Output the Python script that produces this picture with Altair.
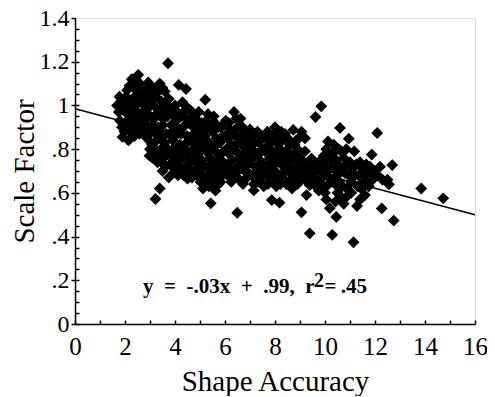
import altair as alt
import pandas as pd

# Scatter data (Shape Accuracy, Scale Factor)
xs = [
    1.68, 1.75, 1.85, 1.90, 1.80, 1.95, 1.88,
    2.05, 2.10, 2.00, 2.14, 2.15, 2.20, 2.08, 2.22,
    2.27, 2.35, 2.30, 2.40, 2.32, 2.45, 2.38, 2.50, 2.42,
    2.53, 2.60, 2.65, 2.55, 2.62, 2.70, 2.58, 2.68, 2.72,
    2.80, 2.93, 2.85, 2.90, 2.82, 2.95, 2.88, 3.00, 2.98, 3.02,
    3.10, 3.20, 3.15, 3.25, 3.12, 3.22, 3.18, 3.28, 3.10, 3.22, 3.39, 3.30,
    3.39, 3.50, 3.59, 3.45, 3.55, 3.42, 3.52, 3.48, 3.58, 3.44, 3.55, 3.62, 3.50,
    3.72, 3.75, 3.80, 3.70, 3.85, 3.78, 3.90, 3.72, 3.85, 3.80, 3.92, 3.75,
    4.15, 4.00, 4.10, 4.05, 4.15, 4.02, 4.20, 4.08, 4.18, 4.00, 4.12, 4.22,
    4.44, 4.30, 4.35, 4.45, 4.32, 4.48, 4.38, 4.50, 4.30, 4.42, 4.35, 4.50,
    4.60, 4.70, 4.65, 4.75, 4.60, 4.72, 4.80, 4.62, 4.75, 4.68, 4.82,
    4.90, 5.00, 4.95, 5.05, 4.92, 5.08, 4.98, 5.10, 5.02, 5.21, 5.12,
    5.25, 5.30, 5.20, 5.35, 5.25, 5.40, 5.28, 5.38, 5.22, 5.35, 5.43,
    5.55, 5.60, 5.50, 5.65, 5.55, 5.70, 5.60, 5.50, 5.68, 5.58, 5.62,
    5.85, 5.90, 5.80, 5.95, 5.85, 6.00, 5.90, 5.82, 6.03,
    6.15, 6.20, 6.10, 6.25, 6.15, 6.30, 6.20, 6.10, 6.25,
    6.36, 6.45, 6.50, 6.40, 6.55, 6.45, 6.60, 6.50, 6.42, 6.58, 6.49,
    6.70, 6.80, 6.75, 6.85, 6.70, 6.90, 6.78, 6.88, 6.72,
    7.00, 7.10, 7.05, 7.15, 7.00, 7.20, 7.08, 7.15, 7.15,
    7.30, 7.40, 7.35, 7.50, 7.30, 7.45, 7.38, 7.50, 7.32, 7.55,
    7.65, 7.75, 7.60, 7.80, 7.70, 7.62, 7.78, 7.87,
    8.00, 7.95, 8.05, 7.90, 8.10, 7.98, 8.08, 7.92, 8.05, 8.18,
    8.25, 8.30, 8.20, 8.35, 8.25, 8.40, 8.30, 8.22,
    8.50, 8.60, 8.73, 8.55, 8.65, 8.50, 8.70, 8.58, 8.68,
    9.06, 8.85, 8.90, 8.80, 8.95, 8.85, 9.00, 8.90, 9.06,
    9.20, 9.15, 9.25, 9.10, 9.30, 9.26, 9.39, 9.39,
    9.46, 9.55, 9.50, 9.60, 9.62, 9.45,
    9.85, 9.75, 9.80, 9.90, 9.85, 9.75, 9.95,
    10.12, 10.05, 10.15, 10.00, 10.20, 10.08, 10.00, 10.19, 10.15, 10.05,
    10.35, 10.30, 10.45, 10.35, 10.50, 10.40, 10.50, 10.45, 10.29, 10.42,
    10.60, 10.65, 10.75, 10.60, 10.80, 10.70, 10.65, 10.84, 10.75,
    10.95, 11.17, 11.00, 11.10, 10.95, 11.05, 11.20, 11.14, 11.28,
    11.40, 11.50, 11.35, 11.55, 11.45, 11.60, 11.40,
    11.87, 11.80, 11.70, 11.90, 11.75, 12.00, 11.95,
    12.09, 12.20, 12.10, 12.30, 12.27, 12.69, 12.56, 12.50, 12.75,
    13.85, 14.73,
    # points filling the dense core
    1.78, 1.98, 2.02, 2.18, 2.25, 2.28, 2.36, 2.48, 2.47, 2.56, 2.66, 2.75,
    2.77, 2.86, 2.92, 2.95, 3.05, 3.05, 3.08,
    3.17, 3.30, 3.33, 3.35, 3.38, 3.40, 3.47, 3.62, 3.65, 3.66, 3.68, 3.88,
    3.93, 3.95, 3.97,
    4.05, 4.10, 4.25, 4.25, 4.27, 4.40, 4.55, 4.55, 4.57, 4.58, 4.78, 4.85,
    4.85, 4.88, 4.95,
    5.05, 5.10, 5.15, 5.15, 5.32, 5.45, 5.45, 5.45, 5.48, 5.72, 5.75, 5.75,
    5.75, 5.95, 6.00,
    6.05, 6.08, 6.30, 6.32, 6.35, 6.62, 6.65, 6.68, 6.62, 6.85, 6.95, 6.95, 6.92,
    7.20, 7.22, 7.25, 7.40, 7.42, 7.55, 7.58, 7.70, 7.72, 7.85, 7.85, 7.88,
    8.12, 8.15, 8.15, 8.40, 8.42, 8.45, 8.45, 8.62, 8.75, 8.78, 8.78, 8.95, 9.00,
    9.10, 9.20, 9.35, 9.35, 9.65, 9.68, 9.55, 9.95, 9.92,
    10.25, 10.28, 10.55, 10.55, 10.58, 10.85, 10.85, 10.88, 11.05, 11.25,
    11.30, 11.60, 11.65, 11.50,
]
ys = [
    1.000, 0.970, 1.020, 0.856, 0.930, 0.990, 0.900,
    1.040, 0.960, 0.920, 0.840, 1.000, 0.880, 1.070, 0.930,
    1.120, 1.080, 1.030, 0.980, 0.940, 0.900, 0.860, 1.050, 1.000,
    1.140, 1.100, 1.060, 0.960, 0.920, 0.880, 0.870, 1.010, 0.970,
    1.070, 1.105, 1.030, 0.990, 0.940, 0.900, 0.850, 0.800, 0.770, 0.950,
    1.080, 1.040, 1.000, 0.960, 0.910, 0.870, 0.830, 0.790, 0.760, 0.572, 0.620, 0.740,
    1.100, 1.080, 1.064, 1.020, 0.980, 0.950, 0.910, 0.870, 0.830, 0.800, 0.760, 0.720, 0.700,
    1.193, 1.030, 0.990, 0.950, 0.910, 0.870, 0.840, 0.800, 0.770, 0.730, 0.690, 0.670,
    1.094, 1.000, 0.970, 0.930, 0.890, 0.860, 0.820, 0.780, 0.750, 0.710, 0.680, 0.700,
    1.075, 1.015, 0.970, 0.940, 0.900, 0.860, 0.820, 0.790, 0.760, 0.720, 0.680, 0.665,
    0.980, 0.950, 0.910, 0.870, 0.840, 0.800, 0.770, 0.740, 0.700, 0.670, 0.900,
    0.930, 0.890, 0.850, 0.820, 0.780, 0.750, 0.710, 0.680, 0.650, 1.026, 0.620,
    0.930, 0.900, 0.860, 0.830, 0.790, 0.760, 0.720, 0.690, 0.660, 0.630, 0.552,
    0.950, 0.920, 0.880, 0.850, 0.810, 0.780, 0.740, 0.700, 0.670, 0.640, 0.610,
    0.900, 0.860, 0.830, 0.790, 0.750, 0.720, 0.680, 0.650, 0.930,
    0.920, 0.890, 0.850, 0.820, 0.780, 0.750, 0.710, 0.680, 0.650,
    0.970, 0.940, 0.900, 0.860, 0.830, 0.790, 0.760, 0.720, 0.690, 0.660, 0.509,
    0.900, 0.870, 0.830, 0.800, 0.770, 0.730, 0.700, 0.670, 0.640,
    0.890, 0.860, 0.820, 0.790, 0.750, 0.720, 0.680, 0.640, 0.611,
    0.880, 0.860, 0.830, 0.800, 0.770, 0.740, 0.700, 0.670, 0.650, 0.630,
    0.850, 0.820, 0.790, 0.760, 0.730, 0.700, 0.670, 0.567,
    0.900, 0.860, 0.830, 0.790, 0.760, 0.730, 0.690, 0.660, 0.630, 0.555,
    0.880, 0.840, 0.800, 0.770, 0.730, 0.700, 0.670, 0.640,
    0.850, 0.820, 0.888, 0.780, 0.750, 0.710, 0.680, 0.650, 0.620,
    0.880, 0.840, 0.800, 0.760, 0.730, 0.700, 0.670, 0.640, 0.511,
    0.850, 0.740, 0.700, 0.670, 0.650, 0.590, 0.635, 0.415,
    0.757, 0.720, 0.680, 0.700, 0.947, 0.660,
    0.996, 0.740, 0.700, 0.670, 0.640, 0.610, 0.720,
    0.835, 0.800, 0.770, 0.740, 0.710, 0.680, 0.600, 0.530, 0.640, 0.570,
    0.820, 0.780, 0.750, 0.710, 0.680, 0.640, 0.600, 0.490, 0.408, 0.560,
    0.897, 0.790, 0.760, 0.720, 0.690, 0.630, 0.580, 0.580, 0.550,
    0.848, 0.790, 0.740, 0.710, 0.680, 0.650, 0.680, 0.374, 0.540,
    0.740, 0.710, 0.680, 0.650, 0.620, 0.590, 0.570,
    0.775, 0.720, 0.690, 0.660, 0.630, 0.700, 0.680,
    0.874, 0.720, 0.680, 0.660, 0.529, 0.727, 0.639, 0.660, 0.473,
    0.620, 0.575,
    # points filling the dense core
    1.040, 0.880, 1.000, 1.090, 0.960, 0.900, 1.010, 0.940, 1.100, 1.030, 0.900, 1.040,
    0.930, 0.980, 0.870, 1.060, 1.020, 0.880, 0.820,
    0.940, 1.060, 0.900, 0.850, 0.770, 0.980, 0.740, 0.950, 0.870, 0.790, 1.000, 0.960,
    0.800, 0.750, 0.880,
    0.800, 0.730, 0.950, 0.870, 0.790, 1.000, 0.920, 0.760, 0.700, 0.840, 0.940, 0.820,
    0.740, 0.680, 0.970,
    0.920, 0.800, 0.720, 0.860, 0.960, 0.910, 0.800, 0.660, 0.730, 0.900, 0.830, 0.710,
    0.640, 0.700, 0.860,
    0.800, 0.730, 0.870, 0.680, 0.800, 0.860, 0.730, 0.820, 0.940, 0.750, 0.690, 0.840, 0.780,
    0.830, 0.770, 0.690, 0.790, 0.670, 0.860, 0.720, 0.880, 0.640, 0.840, 0.700, 0.780,
    0.860, 0.800, 0.670, 0.870, 0.790, 0.740, 0.640, 0.720, 0.780, 0.820, 0.660, 0.850, 0.760,
    0.710, 0.790, 0.720, 0.680, 0.660, 0.720, 0.640, 0.770, 0.620,
    0.750, 0.660, 0.800, 0.710, 0.650, 0.800, 0.730, 0.620, 0.600, 0.730,
    0.630, 0.680, 0.730, 0.580,
]

# Regression line y = -.03x + .99 (as drawn, from x=0 to x=16)
fit_x = [0, 16]
fit_y = [0.985, 0.50]

x_major = [0, 2, 4, 6, 8, 10, 12, 14, 16]
x_minor = list(range(0, 17))
y_major = [0, 0.2, 0.4, 0.6, 0.8, 1.0, 1.2, 1.4]
y_minor = [i * 0.05 for i in range(0, 29)]

SP = "\u2002"
equation_main = f"y{SP}={SP}-.03x{SP}+{SP}.99,{SP}r"
equation_sup = "2"
equation_tail = "=\u2009.45"

pts = pd.DataFrame({"x": xs, "y": ys})
fit = pd.DataFrame({"x": fit_x, "y": fit_y})

FONT = "Liberation Serif"
xscale = alt.Scale(domain=[0, 16], nice=False, zero=False)
yscale = alt.Scale(domain=[0, 1.4], nice=False, zero=False)

y_label_expr = ("datum.value > 0 && datum.value < 1 ? "
                "substring(format(datum.value, '.1f'), 1) : format(datum.value, '~g')")

main_x_axis = alt.Axis(
    orient="bottom", values=x_major, title="Shape Accuracy", grid=False,
    domainColor="black", domainWidth=1.5, tickSize=0, labelFlush=False,
    labelFont=FONT, labelFontSize=25, labelColor="black", labelPadding=10,
    titleFont=FONT, titleFontSize=29, titleFontWeight="normal", titleColor="black",
    titleY=66, titleBaseline="alphabetic",
)
main_y_axis = alt.Axis(
    orient="left", values=y_major, title="Scale Factor", grid=False,
    domainColor="black", domainWidth=1.5, tickColor="black", tickWidth=1.5, tickSize=4,
    labelFont=FONT, labelFontSize=24, labelColor="black", labelPadding=2,
    labelExpr=y_label_expr, labelFlush=False,
    titleFont=FONT, titleFontSize=29, titleFontWeight="normal", titleColor="black",
    titleX=-51, titleBaseline="middle",
)
minor_x_axis = alt.Axis(
    orient="bottom", values=x_minor, title=None, grid=False, domain=False,
    labels=False, tickColor="black", tickWidth=1.5, tickSize=4, offset=-4,
)
minor_y_axis = alt.Axis(
    orient="left", values=y_minor, title=None, grid=False, domain=False,
    labels=False, tickColor="black", tickWidth=1.5, tickSize=4, offset=-4,
)

line = alt.Chart(fit).mark_line(color="black", strokeWidth=1.6).encode(
    x=alt.X("x:Q", scale=xscale, axis=None),
    y=alt.Y("y:Q", scale=yscale, axis=None),
)

points = alt.Chart(pts).mark_point(
    shape="diamond", filled=True, size=140, color="black", opacity=1, strokeWidth=0
).encode(
    x=alt.X("x:Q", scale=xscale, axis=main_x_axis),
    y=alt.Y("y:Q", scale=yscale, axis=main_y_axis),
)

minor = alt.Chart(fit).mark_point(opacity=0).encode(
    x=alt.X("x:Q", scale=xscale, axis=minor_x_axis),
    y=alt.Y("y:Q", scale=yscale, axis=minor_y_axis),
)

eq_style = dict(font=FONT, fontWeight="bold", color="black", align="left", baseline="alphabetic")
eq1 = alt.Chart(pd.DataFrame({"t": [equation_main]})).mark_text(fontSize=21, **eq_style).encode(
    x=alt.datum(2.72, scale=xscale, axis=None), y=alt.datum(0.141, scale=yscale, axis=None), text="t:N")
eq2 = alt.Chart(pd.DataFrame({"t": [equation_sup]})).mark_text(fontSize=20, **eq_style).encode(
    x=alt.datum(9.56, scale=xscale, axis=None), y=alt.datum(0.168, scale=yscale, axis=None), text="t:N")
eq3 = alt.Chart(pd.DataFrame({"t": [equation_tail]})).mark_text(fontSize=21, **eq_style).encode(
    x=alt.datum(9.98, scale=xscale, axis=None), y=alt.datum(0.141, scale=yscale, axis=None), text="t:N")

chart = alt.layer(line, points, minor, eq1, eq2, eq3).resolve_axis(
    x="independent", y="independent"
).properties(
    width=400, height=306,
    autosize=alt.AutoSizeParams(type="none"),
    padding={"left": 67, "top": 10, "right": 12, "bottom": 72},
).configure_view(stroke=None).configure(background="white")

chart.save("out.html", embed_options={"renderer": "svg", "actions": False})
